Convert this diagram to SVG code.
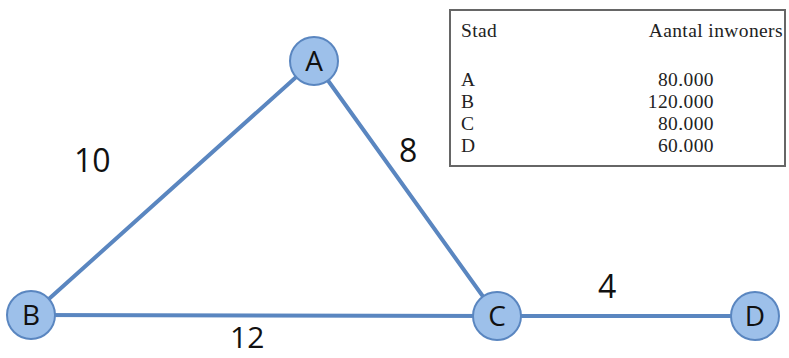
<svg xmlns="http://www.w3.org/2000/svg" width="789" height="358" viewBox="0 0 789 358">
<style>
.edge{stroke:#5a86c0;stroke-width:4;fill:none;stroke-linecap:round}
.node circle{fill:#9dc0ea;stroke:#5a86c0;stroke-width:2}
.node text{font-family:"Open Sans","Liberation Sans",sans-serif;font-size:28px;fill:#111;text-anchor:middle}
.lbl{font-family:"Open Sans","Liberation Sans",sans-serif;font-size:32px;fill:#111}
.tbl{font-family:"Liberation Serif",serif;font-size:19.5px;letter-spacing:0.4px;fill:#222}
</style>
<rect width="789" height="358" fill="#fff"/>
<g id="connectors">
<line class="edge" x1="314" y1="61" x2="31" y2="315"/>
<line class="edge" x1="314" y1="61" x2="497" y2="316"/>
<line class="edge" x1="31" y1="315" x2="497" y2="316"/>
<line class="edge" x1="497" y1="316" x2="755" y2="316"/>
</g>
<g id="edge-labels">
<text class="lbl" x="74" y="172">10</text>
<text class="lbl" x="399" y="162">8</text>
<text class="lbl" x="598" y="298">4</text>
<text class="lbl" x="230" y="348" style="font-size:30px">12</text>
</g>
<g id="A" class="node"><circle cx="314" cy="61" r="24"/><text x="314" y="71">A</text></g>
<g id="B" class="node"><circle cx="31" cy="315" r="24"/><text x="31" y="325">B</text></g>
<g id="C" class="node"><circle cx="497" cy="316" r="24"/><text x="497" y="326">C</text></g>
<g id="D" class="node"><circle cx="755" cy="316" r="24"/><text x="755" y="326">D</text></g>
<g id="table">
<rect x="450" y="10" width="335" height="156" fill="#fff" stroke="#666" stroke-width="2"/>
<text class="tbl" x="461" y="37">Stad</text>
<text class="tbl" x="783" y="37" text-anchor="end">Aantal inwoners</text>
<text class="tbl" x="461" y="86">A</text>
<text class="tbl" x="461" y="108">B</text>
<text class="tbl" x="461" y="130">C</text>
<text class="tbl" x="461" y="152">D</text>
<text class="tbl" x="714" y="86" text-anchor="end">80.000</text>
<text class="tbl" x="714" y="108" text-anchor="end">120.000</text>
<text class="tbl" x="714" y="130" text-anchor="end">80.000</text>
<text class="tbl" x="714" y="152" text-anchor="end">60.000</text>
</g>
</svg>
